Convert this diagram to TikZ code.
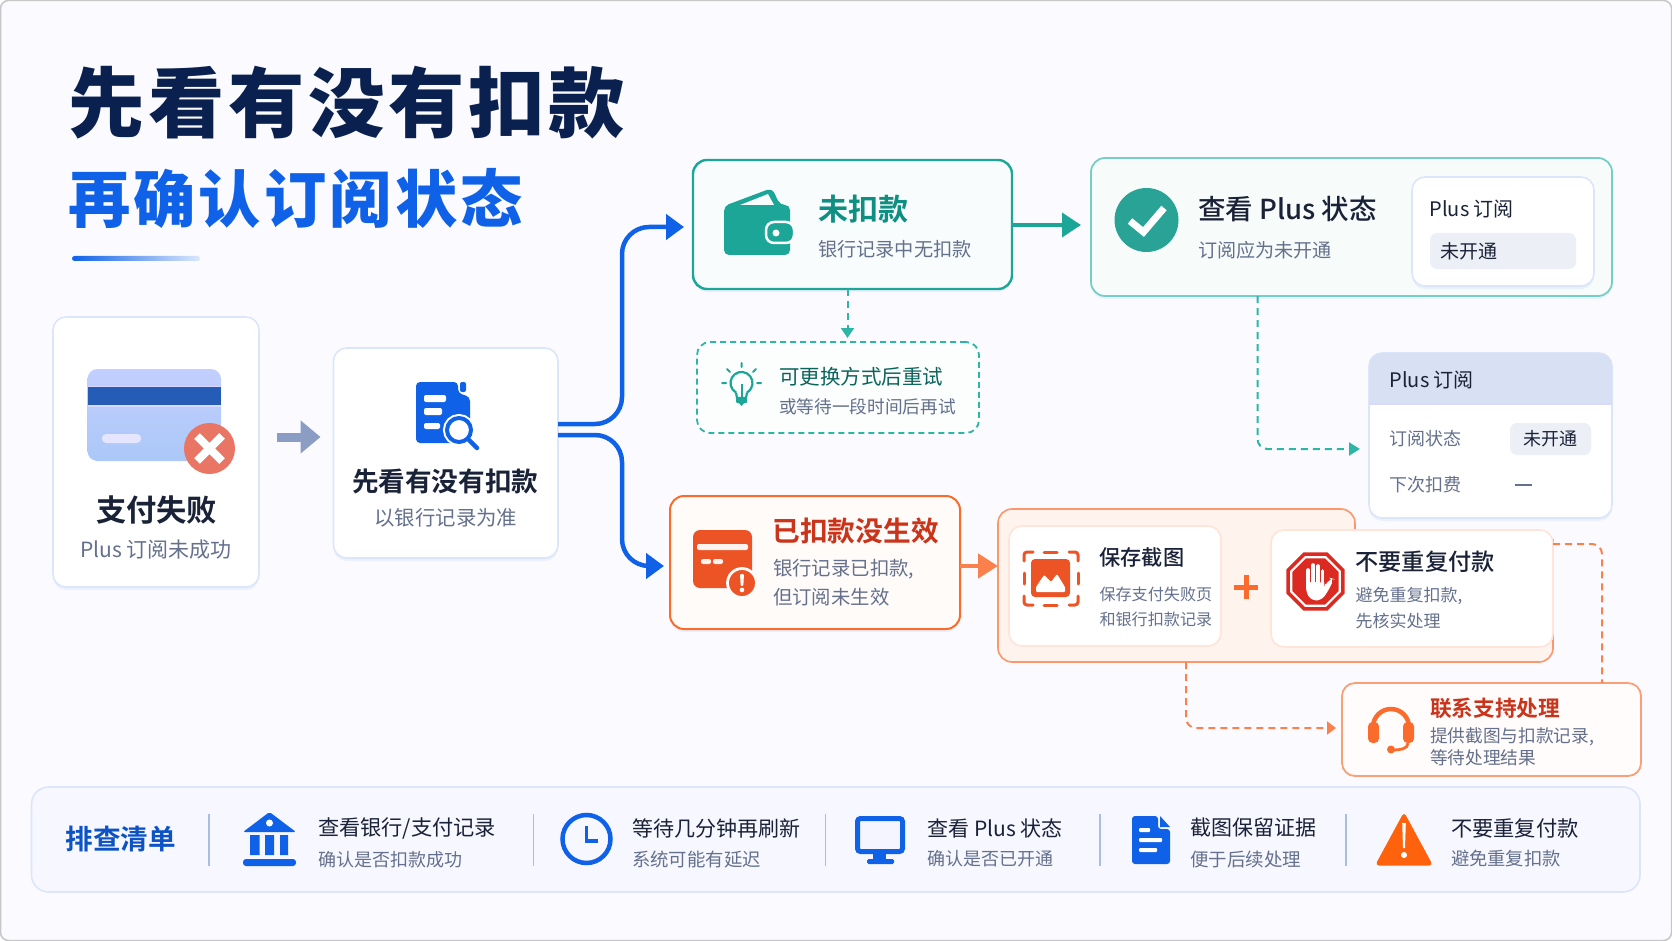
\documentclass[tikz,border=0pt]{standalone}
\usepackage{fontspec}
\usetikzlibrary{arrows.meta,calc,shadows}
\setmainfont{Noto Sans CJK SC}
\newfontfamily\fmed{Noto Sans CJK SC Medium}
\newfontfamily\fbold{Noto Sans CJK SC Bold}
\newfontfamily\ftitle[LetterSpace=5]{Noto Sans CJK SC Black}
\definecolor{navy}{HTML}{0A2150}
\definecolor{ink}{HTML}{1A2238}
\definecolor{sub}{HTML}{64708C}
\definecolor{blu}{HTML}{0F62E8}
\definecolor{teal1}{HTML}{1BA698}
\definecolor{teal2}{HTML}{0E8F82}
\definecolor{teal3}{HTML}{2DB5A6}
\definecolor{org}{HTML}{FA6B2C}
\definecolor{org2}{HTML}{EC5325}
\definecolor{redt}{HTML}{C9341A}
\definecolor{pale}{HTML}{DCE6FA}
\definecolor{hdr}{HTML}{D8E1F3}
\definecolor{pillc}{HTML}{EDEFF6}
\definecolor{sepc}{HTML}{A9BEE0}
\definecolor{grayar}{HTML}{8C9DC4}
\definecolor{stopr}{HTML}{DA2A22}
\newcommand\lbl[7]{\node[lbl,text=#5,font=#6\fontsize{#4}{#4}\selectfont] (#1) at (#2,#3) {#7};}
\newcommand\octa[2]{\fill[#1,shift={(1315.5,581.5)}] (22.5:#2) -- (67.5:#2) -- (112.5:#2) -- (157.5:#2) -- (202.5:#2) -- (247.5:#2) -- (292.5:#2) -- (337.5:#2) -- cycle;}
\tikzset{
 lbl/.style={anchor=west,inner sep=0pt,outer sep=0pt},
 bx/.style={rectangle,inner sep=0pt,outer sep=0pt,anchor=north west},
 shd/.style={drop shadow={shadow xshift=0pt,shadow yshift=-3pt,opacity=.07,fill=blu}},
 whitecard/.style={bx,draw=pale,line width=1.6pt,fill=white,rounded corners=13pt,shd},
 bluearrow/.style={draw=blu,line width=4.5pt,rounded corners=27pt,-{Triangle[length=18pt,width=25pt]}},
 tealdash/.style={draw=teal3,line width=2pt,dash pattern=on 7pt off 5pt},
 orgdash/.style={draw=org!85,line width=2pt,dash pattern=on 7pt off 5pt},
}
\begin{document}
\begin{tikzpicture}[x=1pt,y=-1pt]
\useasboundingbox (0,0) rectangle (1672,941);
\fill[white] (0,0) rectangle (1672,941);
\draw[draw=black!22,fill=blue!1.5!white,line width=1.5pt,rounded corners=8pt] (0.5,0.5) rectangle (1671.5,940.5);
% title
\lbl{title1}{68}{103}{76.3}{navy}{\ftitle}{先看有没有扣款}
\lbl{title2}{68}{198.5}{62.3}{blu}{\ftitle}{再确认订阅状态}
\shade[left color=blu,right color=blu!15,rounded corners=2.5pt] (72,256) rectangle (200,261);
% card 1
\node[whitecard,minimum width=206pt,minimum height=270pt] (c1) at (53,317) {};
\shade[top color=blue!20!white!95!cyan,bottom color=blu!35,rounded corners=10pt] (87.5,369) rectangle (221,461);
\fill[white!85!blue] (87.5,385.5) rectangle (221,406.5);
\fill[blu!75!black!90] (87.5,387) rectangle (221,405);
\fill[white!90!blue,rounded corners=4pt] (102,434) rectangle (141,443);
\fill[stopr!65!white!90!orange] (209.5,448.5) circle (25.5pt);
\draw[white,line width=8pt] (197,436) -- (222,461) (222,436) -- (197,461);
\lbl{c1a}{96}{510}{30.3}{ink}{\fbold}{支付失败}
\lbl{c1b}{80}{550}{21}{sub}{}{Plus 订阅未成功}
% card 2
\node[whitecard,minimum width=224.5pt,minimum height=210pt] (c2) at (333.5,348) {};
\fill[blu,rounded corners=4pt] (416,382) -- (458,382) -- (458,393) -- (470,397) -- (470,443) -- (416,443) -- cycle;
\fill[blu,rounded corners=2pt] (460,382) rectangle (466,392);
\fill[white,rounded corners=2pt] (424,395) rectangle (446,402) (424,408) rectangle (442,415) (424,423) rectangle (440,429);
\draw[white,fill=white,line width=8pt] (459,430) circle (12pt);
\draw[blu,fill=white,line width=4pt] (459,430) circle (12pt);
\draw[blu,line width=4.5pt,line cap=round] (468,439) -- (477,448);
\lbl{c2a}{352}{481}{26.6}{ink}{\fbold}{先看有没有扣款}
\lbl{c2b}{374.5}{518}{20.4}{sub}{}{以银行记录为准}
% wei
\node[bx,draw=teal1,line width=2.4pt,fill=white!97!teal1,rounded corners=14pt,shd,minimum width=319pt,minimum height=129pt] (wei) at (693,160) {};
\fill[teal1,rounded corners=5pt] (724,206) -- (772,188) -- (780,205) -- (790,205) -- (790,255) -- (724,255) -- cycle;
\fill[white!97!teal1] (740,205) -- (768,194) -- (774,205) -- cycle;
\draw[white,fill=teal1,line width=2.5pt,rounded corners=8pt] (766,222) rectangle (794,243);
\fill[white] (776,233) circle (3.5pt);
\lbl{wa}{818}{209.5}{30}{teal2}{\fbold}{未扣款}
\lbl{wb}{818}{249.5}{19.2}{sub}{}{银行记录中无扣款}
% plus
\node[bx,draw=teal3!65,line width=1.8pt,fill=white!96!teal3,rounded corners=14pt,shd,minimum width=521pt,minimum height=138pt] (plus) at (1091,158) {};
\fill[teal3!90!black] (1146.5,220) circle (32pt);
\draw[white,line width=7pt] (1130,221) -- (1143.5,232) -- (1164,208);
\lbl{pa}{1198}{209}{27.5}{ink}{\fmed}{查看 Plus 状态}
\lbl{pb}{1198}{250.5}{19.1}{sub}{}{订阅应为未开通}
\node[whitecard,minimum width=182pt,minimum height=109pt] (pinner) at (1412,177) {};
\lbl{pc}{1429.5}{209.5}{20}{ink}{}{Plus 订阅}
\node[bx,fill=pillc,rounded corners=7pt,minimum width=146pt,minimum height=36pt] (ppill) at (1430,233) {};
\lbl{pd}{1440.5}{251}{19}{ink}{}{未开通}
% tip box
\node[bx,draw=teal3,line width=1.8pt,dash pattern=on 6pt off 4pt,rounded corners=13pt,fill=white!98!teal3,minimum width=282pt,minimum height=91pt] (tip) at (697,342) {};
\draw[teal1,line width=2.2pt] (736,392.5) arc (-120:-420:11pt);
\draw[teal1,line width=2.2pt] (736,392.5) -- (737,398) -- (746,398) -- (747,392.5);
\fill[teal1,rounded corners=1pt] (736,398) rectangle (747,403);
\fill[teal1] (739,403) -- (744,403) -- (741.5,406) -- cycle;
\draw[teal1,line width=2pt] (741.5,384) -- (741.5,398);
\draw[teal1,line width=2pt,line cap=round] (741.5,363) -- (741.5,367) (727,369) -- (730,372) (756,369) -- (753,372) (722,383) -- (726,383) (757,383) -- (761,383);
\lbl{ta}{779}{376.5}{20.5}{teal2!70!black}{}{可更换方式后重试}
\lbl{tb}{779}{407}{17.7}{sub}{}{或等待一段时间后再试}
% table
\node[whitecard,minimum width=243pt,minimum height=165pt] (tbl) at (1369,353) {};
\fill[hdr] (1369,403) [rounded corners=13pt] -- (1369,353) -- (1612,353) [sharp corners] -- (1612,403) -- cycle;
\fill[white!85!blue] (1369,403) rectangle (1612,404.5);
\lbl{tba}{1389.5}{380}{20}{ink}{}{Plus 订阅}
\lbl{tbb}{1389.5}{438.5}{18}{sub}{}{订阅状态}
\node[bx,fill=pillc,rounded corners=7pt,minimum width=81pt,minimum height=32pt] (tpill) at (1510,423) {};
\lbl{tbc}{1523}{439}{18}{ink}{}{未开通}
\lbl{tbd}{1389.5}{484.5}{18}{sub}{}{下次扣费}
\draw[sub,line width=1.6pt] (1515,485) -- (1532,485);
% yi
\node[bx,draw=org,line width=2pt,fill=white!97!org,rounded corners=14pt,shd,minimum width=290pt,minimum height=133pt] (yi) at (670,496) {};
\fill[org2,rounded corners=7pt] (693,530) rectangle (752,588);
\fill[white!92!org,rounded corners=2pt] (697,544) rectangle (748,550);
\fill[white!92!org,rounded corners=2pt] (701,559) rectangle (711,564) (713,559) rectangle (723,564);
\draw[white!97!org,fill=org2,line width=2.8pt] (742,583) circle (14.5pt);
\fill[white,rounded corners=1pt] (740,574) -- (744,574) -- (743.3,586) -- (740.7,586) -- cycle;
\fill[white] (742,590) circle (2.3pt);
\lbl{ya}{772.5}{531}{27.7}{redt}{\fbold}{已扣款没生效}
\lbl{yb}{773}{569}{19.4}{sub}{}{银行记录已扣款,}
\lbl{yc}{773}{597}{19.4}{sub}{}{但订阅未生效}
% group
\coordinate (grpb) at (1186,662);
\coordinate (grpl) at (998,566);
\draw[org!70,line width=1.6pt,fill=org!8,rounded corners=14pt] (998,509) -- (1355,509) -- (1355,550) [sharp corners] -- (1355,540) -- (1553,540) [rounded corners=14pt] -- (1553,662) -- (998,662) -- cycle;
\node[bx,draw=org!18,line width=1.6pt,fill=white,rounded corners=13pt,minimum width=212pt,minimum height=120pt] (save) at (1009,526) {};
\draw[org2,line width=3pt,line cap=round,rounded corners=3pt] (1024,561) -- (1024,552) -- (1033,552) (1069,552) -- (1078,552) -- (1078,561) (1078,596) -- (1078,605) -- (1069,605) (1033,605) -- (1024,605) -- (1024,596);
\draw[org2,line width=3pt,line cap=round] (1044,552) -- (1057,552) (1044,605) -- (1057,605) (1024,573) -- (1024,584) (1078,573) -- (1078,584);
\fill[org2,rounded corners=4pt] (1031,559) rectangle (1070,597);
\fill[white,rounded corners=1pt] (1036,592) -- (1036,587) -- (1044,575) -- (1051,582) -- (1057,574) -- (1065,587) -- (1065,592) -- cycle;
\lbl{sa}{1099.5}{557.5}{21.2}{ink}{\fmed}{保存截图}
\lbl{sb}{1099.5}{594}{16.1}{sub}{}{保存支付失败页}
\lbl{sc}{1099.5}{619}{16.1}{sub}{}{和银行扣款记录}
\draw[org,line width=5pt] (1234,587) -- (1258,587) (1246,575) -- (1246,599);
\node[bx,draw=org!18,line width=1.6pt,fill=white,rounded corners=13pt,minimum width=282pt,minimum height=117pt] (stop) at (1271,530) {};
\octa{stopr}{31.5}
\octa{white}{27.5}
\octa{stopr}{25}
\draw[white,line width=3.6pt,line cap=round] (1308,586) -- (1308,570) (1313,586) -- (1313,565) (1318,586) -- (1318,566) (1322.5,586) -- (1322.5,571);
\fill[white,rounded corners=5pt] (1306,582) -- (1324.5,582) -- (1324.5,587) -- (1330,578) -- (1334,579) -- (1327,593) -- (1321,600.5) -- (1311,600.5) -- (1306,592) -- cycle;
\lbl{sta}{1355.5}{562}{23.2}{ink}{\fmed}{不要重复付款}
\lbl{stb}{1355.5}{596}{17}{sub}{}{避免重复扣款,}
\lbl{stc}{1355.5}{621}{17}{sub}{}{先核实处理}
% contact
\node[bx,draw=org!65,line width=1.8pt,fill=white!98!org,rounded corners=13pt,minimum width=299pt,minimum height=93pt] (ct) at (1342,683) {};
\draw[org,line width=4.5pt] (1373,727) arc (180:0:18pt);
\fill[org,rounded corners=4.5pt] (1368,722) rectangle (1379,743) (1403,722) rectangle (1414,743);
\draw[org,line width=2.8pt] (1408,743) .. controls (1408,749) and (1400,750) .. (1393,750);
\fill[org] (1391,749.5) circle (4pt);
\lbl{cta}{1430}{708}{21.7}{redt}{\fbold}{联系支持处理}
\lbl{ctb}{1430}{737}{17.7}{sub}{}{提供截图与扣款记录,}
\lbl{ctc}{1430}{758}{17.7}{sub}{}{等待处理结果}
% bar
\node[bx,draw=pale,line width=1.6pt,fill=blue!3!white,rounded corners=17pt,minimum width=1608.5pt,minimum height=105pt] (bar) at (31.5,787) {};
\lbl{ba}{65.5}{839.5}{27.6}{blu!85!black}{\fbold}{排查清单}
\foreach \sx in {209,533.6,825.4,1100,1346} \draw[sepc,line width=1.4pt] (\sx,814) -- (\sx,866);
\fill[blu,rounded corners=2pt] (243,832) -- (269.5,812) -- (296,832) -- cycle;
\fill[white] (269.5,823) circle (3.5pt);
\fill[blu] (250,835) rectangle (259.5,855) (265,835) rectangle (274,855) (280,835) rectangle (288,855);
\fill[blu,rounded corners=3pt] (243,859) rectangle (296,866);
\lbl{b1a}{318}{828.5}{21.2}{ink}{}{查看银行/支付记录}
\lbl{b1b}{318}{859.5}{18}{sub}{}{确认是否扣款成功}
\draw[blu,line width=4.5pt] (586.5,839) circle (24pt);
\draw[blu,line width=3.5pt] (586.5,826) -- (586.5,841) -- (598,841);
\lbl{b2a}{632}{828.5}{21}{ink}{}{等待几分钟再刷新}
\lbl{b2b}{632}{859.5}{18.4}{sub}{}{系统可能有延迟}
\draw[blu,line width=5pt,fill=white!96!blue,rounded corners=3pt] (857.5,818.5) rectangle (902.5,851.5);
\fill[blu] (873,853) rectangle (886,860);
\fill[blu,rounded corners=1.5pt] (867,859) rectangle (894,864);
\lbl{b3a}{927.5}{828}{21}{ink}{}{查看 Plus 状态}
\lbl{b3b}{927.5}{858.5}{18}{sub}{}{确认是否已开通}
\fill[blu,rounded corners=3pt] (1132,816) -- (1158,816) -- (1158,829) -- (1170,829) -- (1170,864) -- (1132,864) -- cycle;
\fill[blu] (1160,816) -- (1170,827) -- (1160,827) -- cycle;
\fill[white,rounded corners=1pt] (1139,828) rectangle (1150,832) (1139,838) rectangle (1162,842) (1139,848) rectangle (1157,852);
\lbl{b4a}{1190}{828}{21}{ink}{}{截图保留证据}
\lbl{b4b}{1190}{859}{18.5}{sub}{}{便于后续处理}
\fill[orange!70!red!95!white,rounded corners=4pt] (1404,812) -- (1433,865.5) -- (1375,865.5) -- cycle;
\fill[white] (1402.2,823) -- (1405.8,823) -- (1405,848) -- (1403,848) -- cycle;
\fill[white] (1404,855) circle (3pt);
\lbl{b5a}{1451}{828}{21.3}{ink}{}{不要重复付款}
\lbl{b5b}{1451}{859}{18.3}{sub}{}{避免重复扣款}
% connectors
\coordinate (upb) at (622,227);
\coordinate (lob) at (622,566);
\draw[line width=9pt,draw=grayar,-{Triangle[length=20pt,width=32pt]}] ($(c1.east)+(18,-15)$) -- ($(c2.west)+(-13,-16)$);
\draw[bluearrow] ($(c2.east)+(0,-29)$) -| (upb) -- ($(wei.west)+(-9,2.5)$);
\draw[bluearrow] ($(c2.east)+(0,-18)$) -| (lob) -- ($(yi.west)+(-6,3.5)$);
\draw[draw=teal1,line width=4pt,-{Triangle[length=19pt,width=24pt]}] ($(wei.east)+(0,0.5)$) -- ($(plus.west)+(-10,-2)$);
\draw[draw=org!85,line width=4.5pt,-{Triangle[length=20pt,width=24pt]}] (yi.east |- grpl) -- (grpl);
\draw[tealdash,-{Triangle[length=10pt,width=13pt]}] ($(wei.south)+(-5,0)$) -- ($(tip.north)+(9.5,-4)$);
\draw[tealdash,rounded corners=10pt,-{Triangle[length=11pt,width=13pt]}] ($(plus.south)+(-94,0)$) |- ($(tbl.west)+(-9,13.5)$);
\draw[orgdash,rounded corners=10pt,-{Triangle[length=9pt,width=13pt]}] (grpb) |- ($(ct.west)+(-6,-1.5)$);
\draw[orgdash,rounded corners=10pt] ($(stop.east)+(0,-44.5)$) -| ($(ct.north)+(110.5,0)$);
\end{tikzpicture}
\end{document}
